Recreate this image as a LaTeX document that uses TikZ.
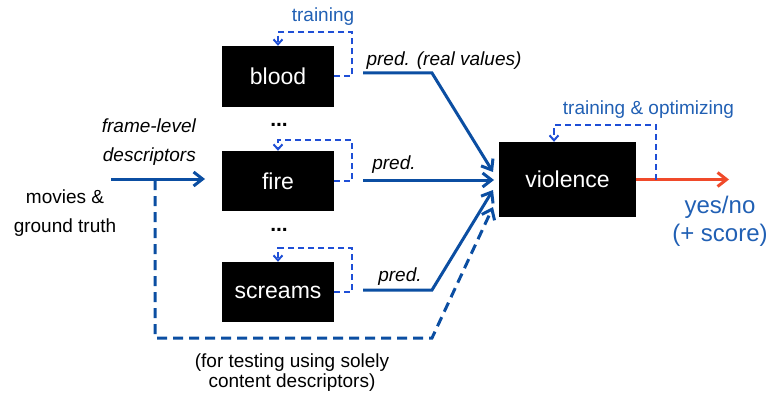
\documentclass[tikz,border=0pt]{standalone}
\usepackage{fontspec}
\setmainfont{Liberation Sans}
\usetikzlibrary{arrows.meta,calc}
\definecolor{lineblue}{HTML}{0B4EA2}
\definecolor{loopblue}{HTML}{1F4FD6}
\definecolor{textblue}{HTML}{2160B4}
\definecolor{outred}{HTML}{F04A2A}
\begin{document}
\begin{tikzpicture}[x=1pt,y=-1pt,
  box/.style={fill=black,draw=none,text=white,inner sep=0pt,font=\fontsize{23}{23}\selectfont},
  small/.style={inner sep=0pt,font=\fontsize{19}{19}\selectfont},
  smallit/.style={inner sep=0pt,font=\fontsize{19}{19}\selectfont\itshape},
  predline/.style={draw=lineblue,line width=3pt,-{Straight Barb[length=9pt,width=14pt,line width=3pt]}},
  fbloop/.style={draw=loopblue,line width=2pt,dash pattern=on 6pt off 4pt,-{Straight Barb[length=5pt,width=9pt,line width=2pt]}},
  testpath/.style={draw=lineblue,line width=3pt,dash pattern=on 10pt off 6pt,-{Straight Barb[length=9pt,width=14pt,line width=3pt]}},
  dotsstyle/.style={inner sep=0pt,font=\fontsize{21}{21}\selectfont\bfseries}
]
\useasboundingbox (0,0) rectangle (769,396);

% boxes
\node[box,minimum width=112pt,minimum height=61pt] (blood) at (278,76.5) {blood};
\node[box,minimum width=112pt,minimum height=60pt] (fire) at (278,181) {fire};
\node[box,minimum width=112pt,minimum height=60pt] (screams) at (278,292) {screams};
\node[box,minimum width=137pt,minimum height=75pt] (violence) at (567.5,179.5) {violence};

% dots
\node[dotsstyle] (dots1) at (279,125) {...};
\node[dotsstyle] (dots2) at (279,230) {...};

% feedback loops
\coordinate (bl) at (352,32);
\coordinate (fl) at (352,140);
\coordinate (sl) at (352,248);
\draw[fbloop] (blood.east) -| (bl) -| (blood.north);
\draw[fbloop] (fire.east) -| (fl) -| (fire.north);
\draw[fbloop] (screams.east) -| (sl) -| (screams.north);

% pred lines
\coordinate (bs) at (363,73);
\coordinate (bk) at (432,73);
\coordinate (be) at (493,172);
\coordinate (fs) at (363,180);
\coordinate (fe) at (494,180);
\coordinate (ss) at (363,290);
\coordinate (sk) at (432,290);
\coordinate (se) at (493,190);
\draw[predline] (bs) -- (bk) -- (be);
\draw[predline] (fs) -- (fe);
\draw[predline] (ss) -- (sk) -- (se);

% input arrow
\coordinate (in) at (111,179);
\coordinate (inend) at (205,179);
\draw[predline] (in) -- (inend);

% testing path
\coordinate (ds) at (155,180);
\coordinate (dc1) at (155,338);
\coordinate (dc2) at (432,338);
\coordinate (dend) at (493,207);
\draw[testpath] (ds) -- (dc1) -- (dc2) -- (dend);

% output
\coordinate (outend) at (729,179.5);
\draw[draw=outred,line width=3pt,-{Straight Barb[length=9pt,width=14pt,line width=3pt]}] (violence.east) -- (outend);
\coordinate (vo) at (656,179.5);
\coordinate (vl) at (656,125);
\draw[fbloop] (vo) -- (vl) -| ([xshift=-13.5pt]violence.north);

% labels
\node[small,text=textblue] (tr1) at (323,17) {training};
\node[small,text=textblue] (tr2) at (648.5,110) {training \& optimizing};
\node[smallit] (p1) at (444,61) {pred. (real values)};
\node[smallit] (p2) at (394,165) {pred.};
\node[smallit] (p3) at (400,277) {pred.};
\node[smallit,align=right,anchor=east,font=\fontsize{19}{29}\selectfont\itshape] (fl1) at (196,142.5) {frame-level\\descriptors};
\node[small,align=center,font=\fontsize{19}{29}\selectfont] (mv) at (65,213.5) {movies \&\\ground truth};
\node[small,align=center,font=\fontsize{19}{20}\selectfont] (ft) at (292,373) {(for testing using solely\\content descriptors)};
\node[small,align=center,text=textblue,font=\fontsize{24}{28}\selectfont] (yn) at (720,221) {yes/no\\(+ score)};
\end{tikzpicture}
\end{document}
